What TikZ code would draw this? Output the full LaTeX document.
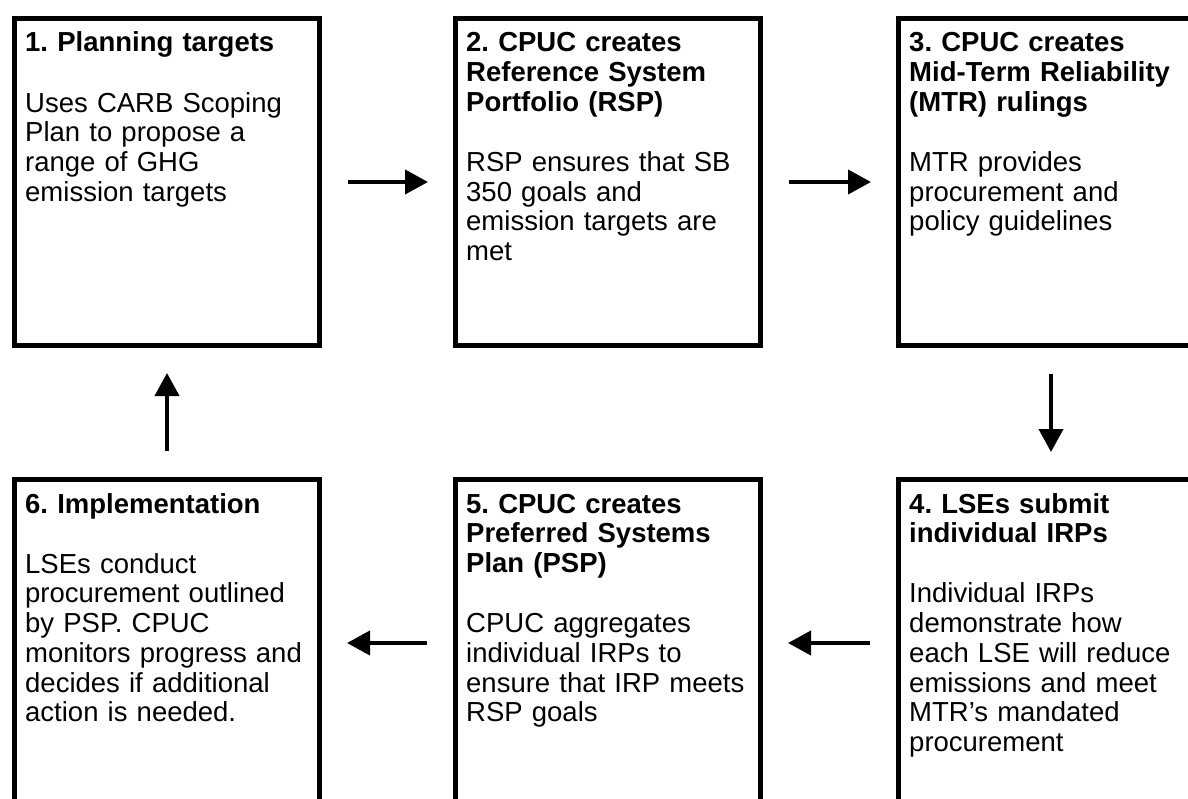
\documentclass[tikz,border=0pt]{standalone}
\usepackage{fontspec}
\setmainfont{Liberation Sans}
\frenchspacing
\usetikzlibrary{arrows.meta,positioning}
\tikzset{
	stage/.style={draw, line width=5pt, minimum width=305pt, minimum height=327pt, inner sep=0pt, anchor=north west},
	stagetext/.style={anchor=base west, text width=300pt, align=left, inner sep=0pt, font=\fontsize{27.5}{29.7}\selectfont},
	flow/.style={line width=4pt, -{Triangle[length=23pt,width=24pt]}, shorten <=26pt, shorten >=25pt}
}

\begin{document}
\begin{tikzpicture}[x=1pt, y=-1pt]
		\useasboundingbox (0,0) rectangle (1188,799);
		\node[stage] (b1) at (12,16) {};
		\node[stage] (b2) at (453,16) {};
		\node[stage] (b3) at (896,16) {};
		\node[stage] (b4) at (896,477) {};
		\node[stage] (b5) at (453,477) {};
		\node[stage] (b6) at (12,477) {};
		\node[stagetext] (t1) at ([shift={(13pt,-36pt)}]b1.north west) {\textbf{1. Planning targets}\\[30.5pt]Uses CARB Scoping\\Plan to propose a\\range of GHG\\emission targets};
		\node[stagetext] (t2) at ([shift={(13pt,-36pt)}]b2.north west) {\textbf{2. CPUC creates}\\\textbf{Reference System}\\\textbf{Portfolio (RSP)}\\[30.5pt]RSP ensures that SB\\350 goals and\\emission targets are\\met};
		\node[stagetext] (t3) at ([shift={(13pt,-36pt)}]b3.north west) {\textbf{3. CPUC creates}\\\textbf{Mid-Term Reliability}\\\textbf{(MTR) rulings}\\[30.5pt]MTR provides\\procurement and\\policy guidelines};
		\node[stagetext] (t4) at ([shift={(13pt,-36pt)}]b4.north west) {\textbf{4. LSEs submit}\\\textbf{individual IRPs}\\[30.5pt]Individual IRPs\\demonstrate how\\each LSE will reduce\\emissions and meet\\MTR’s mandated\\procurement};
		\node[stagetext] (t5) at ([shift={(13pt,-36pt)}]b5.north west) {\textbf{5. CPUC creates}\\\textbf{Preferred Systems}\\\textbf{Plan (PSP)}\\[30.5pt]CPUC aggregates\\individual IRPs to\\ensure that IRP meets\\RSP goals};
		\node[stagetext] (t6) at ([shift={(13pt,-36pt)}]b6.north west) {\textbf{6. Implementation}\\[30.5pt]LSEs conduct\\procurement outlined\\by PSP. CPUC\\monitors progress and\\decides if additional\\action is needed.};
		\draw[flow] (b1) -- (b2);
		\draw[flow] (b2) -- (b3);
		\draw[flow] (b3) -- (b4);
		\draw[flow] (b4) -- (b5);
		\draw[flow] (b5) -- (b6);
		\draw[flow] (b6) -- (b1);
	\end{tikzpicture}
\end{document}
